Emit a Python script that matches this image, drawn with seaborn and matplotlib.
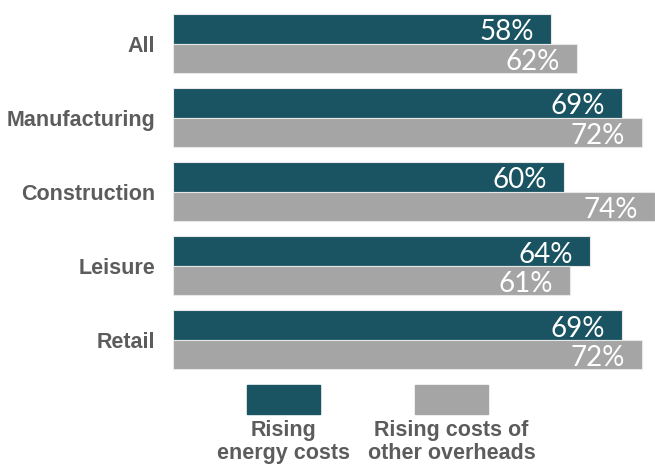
import matplotlib
matplotlib.use("Agg")
import matplotlib.pyplot as plt
import pandas as pd
import seaborn as sns
from matplotlib.patches import Rectangle

# dados
categorias = ["All", "Manufacturing", "Construction", "Leisure", "Retail"]
energia = [58, 69, 60, 64, 69]
outros = [62, 72, 74, 61, 72]
series = ["Rising\nenergy costs", "Rising costs of\nother overheads"]

cores = ["#1a5361", "#a5a5a5"]
cinza_txt = "#5c5c5c"

df = pd.DataFrame({
    "categoria": categorias * 2,
    "valor": energia + outros,
    "serie": [series[0]] * len(categorias) + [series[1]] * len(categorias),
})

sns.set_style("white")
plt.rcParams["font.family"] = ["Liberation Sans", "DejaVu Sans"]

fig = plt.figure(figsize=(6.55, 4.65), dpi=100)
ax = fig.add_axes([173 / 655, 0.19, 1 - 173 / 655, 0.796])

sns.barplot(
    data=df, y="categoria", x="valor", hue="serie",
    order=categorias, hue_order=series, palette=cores, saturation=1,
    orient="h", width=0.8, edgecolor="#e8e8e8", linewidth=0.8,
    legend=False, ax=ax,
)

ax.set_xlim(0, 74)
ax.set_ylim(len(categorias) - 0.5, -0.5)
ax.set_xlabel("")
ax.set_ylabel("")
ax.set_xticks([])
sns.despine(ax=ax, left=True, bottom=True)
ax.tick_params(axis="y", length=0, pad=13)
for lbl in ax.get_yticklabels():
    lbl.set_fontsize(15.5)
    lbl.set_fontweight("bold")
    lbl.set_color(cinza_txt)

# rótulos dentro das barras
for cont in ax.containers:
    for barra in cont:
        w = barra.get_width()
        ax.text(
            w - 2.6, barra.get_y() + barra.get_height() / 2 + 0.05,
            f"{w:.0f}%", ha="right", va="center",
            color="white", fontsize=20, family=["Lato", "DejaVu Sans"],
        )

# legenda manual embaixo
for i, (cor, nome) in enumerate(zip(cores, series)):
    x0 = [247, 415][i] / 655
    fig.add_artist(Rectangle((x0, 1 - 414 / 465), 73 / 655, 29 / 465,
                             transform=fig.transFigure, color=cor))
    fig.text(x0 + 36.5 / 655, 1 - 420 / 465, nome, ha="center", va="top",
             fontsize=15.5, fontweight="bold", color=cinza_txt,
             linespacing=1.12)

fig.savefig("out.png", dpi=100)
